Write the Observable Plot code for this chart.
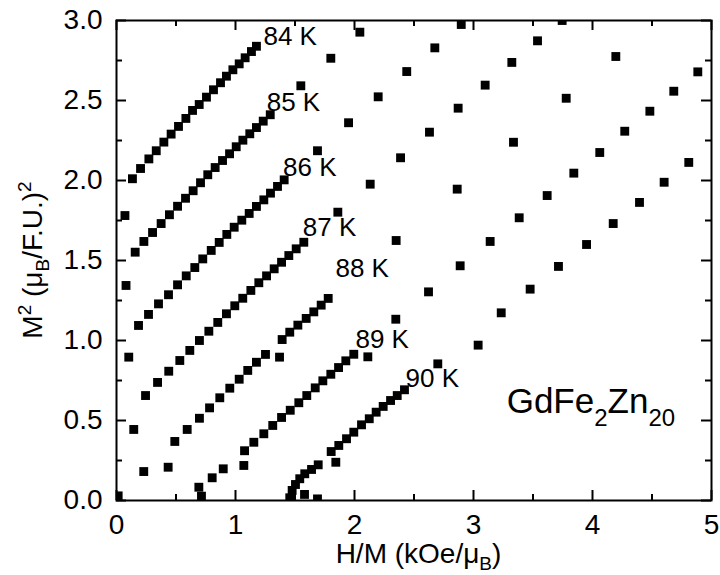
<!DOCTYPE html>
<html><head><meta charset="utf-8">
<script src="https://cdn.jsdelivr.net/npm/d3@7"></script>
<script src="https://cdn.jsdelivr.net/npm/@observablehq/plot@0.6"></script>
<style>
body{margin:0;background:#fff;}
#chart svg{display:block;}
</style>
</head><body><div id="chart"></div>
<script>
// Arrott plot of GdFe2Zn20: [H/M (kOe/muB), M^2 (muB/F.U.)^2]
const t84 = [[0.071,1.781],
 [0.134,2.011],[0.202,2.075],[0.272,2.135],[0.334,2.186],[0.398,2.240],[0.459,2.290],[0.521,2.338],[0.583,2.388],[0.639,2.438],[0.695,2.475],[0.756,2.521],[0.815,2.567],[0.874,2.611],[0.924,2.652],[0.978,2.692],[1.031,2.729],[1.081,2.767],[1.134,2.806],[1.176,2.839]];
const t85 = [[0.080,1.344],
 [0.157,1.552],[0.230,1.619],[0.303,1.675],[0.375,1.731],[0.445,1.786],[0.513,1.839],[0.580,1.889],[0.644,1.936],[0.706,1.986],[0.767,2.036],[0.829,2.081],[0.891,2.125],[0.950,2.167],[1.006,2.211],[1.062,2.252],[1.120,2.292],[1.176,2.331],[1.233,2.371],[1.292,2.411],
 [1.549,2.592],[1.801,2.764],[2.045,2.927]];
const t86 = [[0.103,0.896],
 [0.185,1.094],[0.269,1.163],[0.353,1.229],[0.437,1.286],[0.513,1.348],[0.586,1.404],[0.658,1.456],[0.725,1.510],[0.796,1.563],[0.863,1.613],[0.927,1.663],[0.989,1.708],[1.053,1.752],[1.115,1.794],[1.176,1.838],[1.238,1.879],[1.294,1.921],[1.353,1.963],[1.409,2.004],
 [1.689,2.186],[1.950,2.361],[2.199,2.523],[2.439,2.681],[2.675,2.829],[2.897,2.975]];
const t87 = [[0.145,0.444],
 [0.244,0.656],[0.345,0.738],[0.439,0.808],[0.532,0.875],[0.616,0.938],[0.697,1.000],[0.776,1.058],[0.851,1.113],[0.924,1.167],[0.994,1.217],[1.061,1.264],[1.129,1.313],[1.196,1.361],[1.261,1.404],[1.325,1.448],[1.387,1.489],[1.448,1.531],[1.510,1.573],[1.574,1.614],
 [1.860,1.802],[2.132,1.977],[2.387,2.142],[2.630,2.302],[2.871,2.452],[3.098,2.596],[3.322,2.738],[3.538,2.873],[3.745,3.000]];
const t88 = [[0.229,0.181],[0.434,0.208],
 [0.490,0.369],[0.594,0.444],[0.697,0.514],[0.782,0.579],[0.868,0.642],[0.952,0.702],[1.031,0.758],[1.103,0.813],[1.176,0.864],[1.252,0.913],[1.370,0.896],[1.392,1.006],[1.456,1.052],[1.524,1.096],[1.594,1.138],[1.658,1.179],[1.720,1.221],[1.779,1.263],
 [2.350,1.625],[2.863,1.946],[3.336,2.239],[3.779,2.514],[4.196,2.775]];
const t89 = [[0.014,0.029],[0.692,0.083],[0.714,0.027],[0.804,0.142],[0.897,0.198],[1.070,0.219],
 [1.076,0.311],[1.154,0.364],[1.238,0.417],[1.313,0.469],[1.387,0.519],[1.460,0.564],[1.532,0.611],[1.599,0.656],[1.670,0.704],[1.734,0.748],[1.801,0.789],[1.866,0.831],[1.927,0.873],[1.994,0.914],
 [2.112,0.898],[2.347,1.133],[2.622,1.304],[2.888,1.467],[3.140,1.619],[3.384,1.767],[3.619,1.906],[3.843,2.046],[4.061,2.175],[4.271,2.308],[4.482,2.433],[4.683,2.558],[4.885,2.679]];
const t90 = [[1.580,0.038],[1.689,0.010],
 [1.456,0.017],[1.476,0.063],[1.504,0.100],[1.540,0.136],[1.582,0.167],[1.639,0.194],[1.695,0.223],[1.843,0.239],
 [1.804,0.306],[1.868,0.344],[1.933,0.386],[1.994,0.427],[2.059,0.473],[2.124,0.511],[2.182,0.552],[2.241,0.588],[2.303,0.625],[2.359,0.656],[2.420,0.692],
 [2.700,0.854],[3.039,0.971],[3.233,1.173],[3.476,1.321],[3.714,1.463],[3.950,1.600],[4.174,1.731],[4.395,1.863],[4.602,1.989],[4.809,2.113]];

const temperatures = ["84 K","85 K","86 K","87 K","88 K","89 K","90 K"];
const series = [t84,t85,t86,t87,t88,t89,t90];
// label anchor points (data units, left/baseline)
const labelX = [1.235,1.262,1.400,1.566,1.840,2.008,2.429];
const labelY = [2.844,2.4375,2.031,1.656,1.394,0.954,0.708];

const xMajor = [0,1,2,3,4,5];
const xMinor = [0.5,1.5,2.5,3.5,4.5];
const yMajor = [0,0.5,1,1.5,2,2.5,3];
const yMinor = [0.25,0.75,1.25,1.75,2.25,2.75];

const rows = series.flatMap((s,i)=>s.map(([x,y])=>({x,y,T:temperatures[i]})));
const labels = temperatures.map((t,i)=>({text:t,x:labelX[i],y:labelY[i]}));

const W=720,H=575,mt=20,mr=9,mb=75,ml=116;
const iw=W-ml-mr, ih=H-mt-mb;
const majLen=10, minLen=6;

const plot = Plot.plot({
  width:W, height:H,
  marginTop:mt, marginRight:mr, marginBottom:mb, marginLeft:ml,
  style:{fontFamily:"'Liberation Sans', Arial, sans-serif", fontSize:"28px", color:"black", background:"white"},
  x:{domain:[0,5]},
  y:{domain:[0,3]},
  marks:[
    Plot.dot(rows,{x:"x",y:"y",symbol:"square",r:5,fill:"black",stroke:"none",clip:true}),
    Plot.frame({stroke:"black",strokeWidth:2}),
    Plot.tickX(xMajor,{x:d=>d,insetTop:ih-majLen,strokeWidth:2}),
    Plot.tickX(xMajor,{x:d=>d,insetBottom:ih-majLen,strokeWidth:2}),
    Plot.tickX(xMinor,{x:d=>d,insetTop:ih-minLen,strokeWidth:2}),
    Plot.tickX(xMinor,{x:d=>d,insetBottom:ih-minLen,strokeWidth:2}),
    Plot.tickY(yMajor,{y:d=>d,insetRight:iw-majLen,strokeWidth:2}),
    Plot.tickY(yMajor,{y:d=>d,insetLeft:iw-majLen,strokeWidth:2}),
    Plot.tickY(yMinor,{y:d=>d,insetRight:iw-minLen,strokeWidth:2}),
    Plot.tickY(yMinor,{y:d=>d,insetLeft:iw-minLen,strokeWidth:2}),
    Plot.axisX({ticks:xMajor,tickSize:0,tickPadding:14,tickFormat:d=>String(d),label:null,fontSize:28}),
    Plot.axisY({ticks:yMajor,tickSize:0,tickPadding:14,tickFormat:d3.format(".1f"),label:null,fontSize:28}),
    Plot.text(labels,{x:"x",y:"y",text:"text",textAnchor:"start",lineAnchor:"bottom",fontSize:26,fill:"black"})
  ]
});
document.getElementById("chart").appendChild(plot);

const svg = d3.select(plot);
const font = "'Liberation Sans', Arial, sans-serif";
// y axis title
const yt = svg.append("text").attr("transform","translate(42,260) rotate(-90)")
  .attr("text-anchor","middle").attr("font-family",font).attr("font-size",28).attr("fill","black");
yt.append("tspan").text("M");
yt.append("tspan").attr("dy",-11).attr("font-size",19).text("2");
yt.append("tspan").attr("dy",11).text(" (\u03BC");
yt.append("tspan").attr("dy",7).attr("font-size",19).text("B");
yt.append("tspan").attr("dy",-7).text("/F.U.)");
yt.append("tspan").attr("dy",-11).attr("font-size",19).text("2");
// x axis title
const xt = svg.append("text").attr("x",ml+iw/2+5).attr("y",563)
  .attr("text-anchor","middle").attr("font-family",font).attr("font-size",28).attr("fill","black");
xt.append("tspan").text("H/M (kOe/\u03BC");
xt.append("tspan").attr("dy",7).attr("font-size",19).text("B");
xt.append("tspan").attr("dy",-7).text(")");
// compound name
const sx = plot.scale("x"), sy = plot.scale("y");
const ct = svg.append("text").attr("x",sx.apply(3.283)).attr("y",sy.apply(0.542))
  .attr("text-anchor","start").attr("font-family",font).attr("font-size",35).attr("fill","black");
ct.append("tspan").text("GdFe");
ct.append("tspan").attr("dy",13).attr("font-size",24).text("2");
ct.append("tspan").attr("dy",-13).text("Zn");
ct.append("tspan").attr("dy",13).attr("font-size",24).text("20");
</script>
</body></html>
